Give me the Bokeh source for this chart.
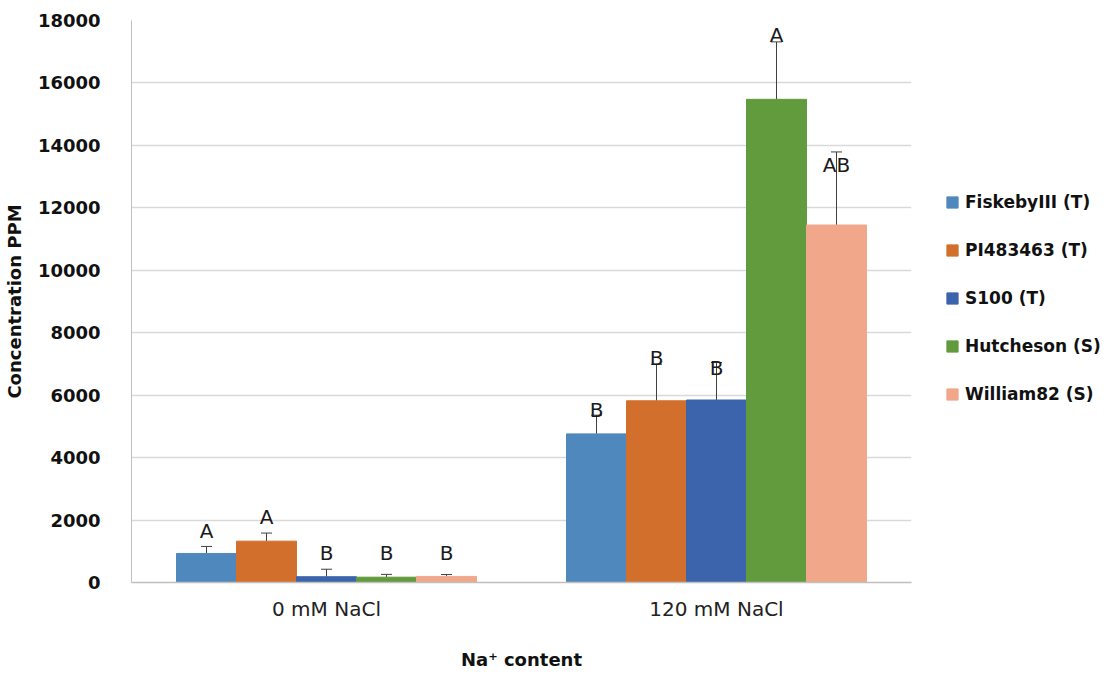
from bokeh.plotting import figure
from bokeh.models import (ColumnDataSource, FactorRange, Whisker, TeeHead, Legend,
                          LegendItem, Range1d, SingleIntervalTicker)
from bokeh.transform import dodge
from bokeh.core.properties import value
from bokeh.embed import file_html
from bokeh.resources import INLINE

# ---------------- data ----------------
conditions = ["0 mM NaCl", "120 mM NaCl"]
series = ["FiskebyIII (T)", "PI483463 (T)", "S100 (T)", "Hutcheson (S)", "William82 (S)"]
colors = ["#4F88BC", "#D36F2C", "#3C64AD", "#629A3E", "#F0A78A"]

fiskeby_mean = [930, 4760]
fiskeby_err = [225, 600]
fiskeby_letters = ["A", "B"]
fiskeby_letter_pos = [1650, 5540]

pi_mean = [1325, 5820]
pi_err = [258, 1170]
pi_letters = ["A", "B"]
pi_letter_pos = [2100, 7195]

s100_mean = [185, 5845]
s100_err = [240, 1200]
s100_letters = ["B", "B"]
s100_letter_pos = [940, 6880]

hutcheson_mean = [170, 15475]
hutcheson_err = [90, 1840]
hutcheson_letters = ["B", "A"]
hutcheson_letter_pos = [940, 17530]

william_mean = [195, 11450]
william_err = [60, 2340]
william_letters = ["B", "AB"]
william_letter_pos = [940, 13376]

means = [fiskeby_mean, pi_mean, s100_mean, hutcheson_mean, william_mean]
errs = [fiskeby_err, pi_err, s100_err, hutcheson_err, william_err]
letters = [fiskeby_letters, pi_letters, s100_letters, hutcheson_letters, william_letters]
letter_pos = [fiskeby_letter_pos, pi_letter_pos, s100_letter_pos, hutcheson_letter_pos, william_letter_pos]

# ---------------- figure ----------------
p = figure(x_range=FactorRange(*conditions), y_range=Range1d(0, 18000),
           frame_width=780, frame_height=562, output_backend="svg", toolbar_location=None,
           min_border_left=131, min_border_right=0, min_border_top=20, min_border_bottom=82)
p.outline_line_color = None

bar_w = 60 / 390
offsets = [(i - 2) * bar_w for i in range(5)]

items = []
for i, name in enumerate(series):
    src = ColumnDataSource(dict(
        cond=conditions,
        mean=means[i],
        upper=[m + e for m, e in zip(means[i], errs[i])],
        letter=letters[i],
        lpos=letter_pos[i],
    ))
    x = dodge("cond", offsets[i], range=p.x_range)
    r = p.vbar(x=x, top="mean", width=bar_w, source=src,
               fill_color=colors[i], line_color=colors[i])
    items.append(LegendItem(label=name, renderers=[r]))
    w = Whisker(base=dodge("cond", offsets[i], range=p.x_range), lower="mean", upper="upper",
                source=src, line_color="#404040", line_width=1,
                lower_head=None,
                upper_head=TeeHead(size=11, line_color="#404040", line_width=1))
    p.add_layout(w)
    p.text(x=dodge("cond", offsets[i], range=p.x_range), y="lpos", text="letter", source=src,
           text_align="center", text_baseline="middle",
           text_font=value("DejaVu Sans"), text_font_size="20px", text_color="#1a1a1a")

# axes
p.yaxis.ticker = SingleIntervalTicker(interval=2000)
p.yaxis.major_tick_line_color = None
p.yaxis.minor_tick_line_color = None
p.yaxis.axis_line_color = "#BFBFBF"
p.yaxis.major_label_text_font = "DejaVu Sans"
p.yaxis.major_label_text_font_style = "bold"
p.yaxis.major_label_text_font_size = "18px"
p.yaxis.major_label_text_color = "#111111"
p.yaxis.major_label_standoff = 25
p.yaxis.axis_label = "Concentration PPM"
p.yaxis.axis_label_text_font = "DejaVu Sans"
p.yaxis.axis_label_text_font_style = "bold"
p.yaxis.axis_label_text_font_size = "18px"
p.yaxis.axis_label_text_color = "#111111"
p.yaxis.axis_label_standoff = 10

p.xaxis.major_tick_line_color = None
p.xaxis.minor_tick_line_color = None
p.xaxis.axis_line_color = "#BFBFBF"
p.xaxis.axis_line_width = 1.5
p.xaxis.major_label_text_font = "DejaVu Sans"
p.xaxis.major_label_text_font_size = "20px"
p.xaxis.major_label_text_color = "#222222"
p.xaxis.major_label_standoff = 8
p.xaxis.axis_label = "Na\u207a content"
p.xaxis.axis_label_text_font = "DejaVu Sans"
p.xaxis.axis_label_text_font_style = "bold"
p.xaxis.axis_label_text_font_size = "18px"
p.xaxis.axis_label_text_color = "#111111"
p.xaxis.axis_label_standoff = 25

p.xgrid.grid_line_color = None
p.ygrid.grid_line_color = "#D9D9D9"
p.ygrid.grid_line_width = 1.5

legend = Legend(items=items, location=(34, 178), padding=0, margin=0, spacing=28,
                label_height=20, glyph_height=14, glyph_width=14, label_standoff=6,
                border_line_color=None, background_fill_alpha=0,
                label_text_font="DejaVu Sans", label_text_font_style="bold",
                label_text_font_size="17px", label_text_color="#111111")
p.add_layout(legend, "right")

open("out.html", "w").write(file_html(p, INLINE))
